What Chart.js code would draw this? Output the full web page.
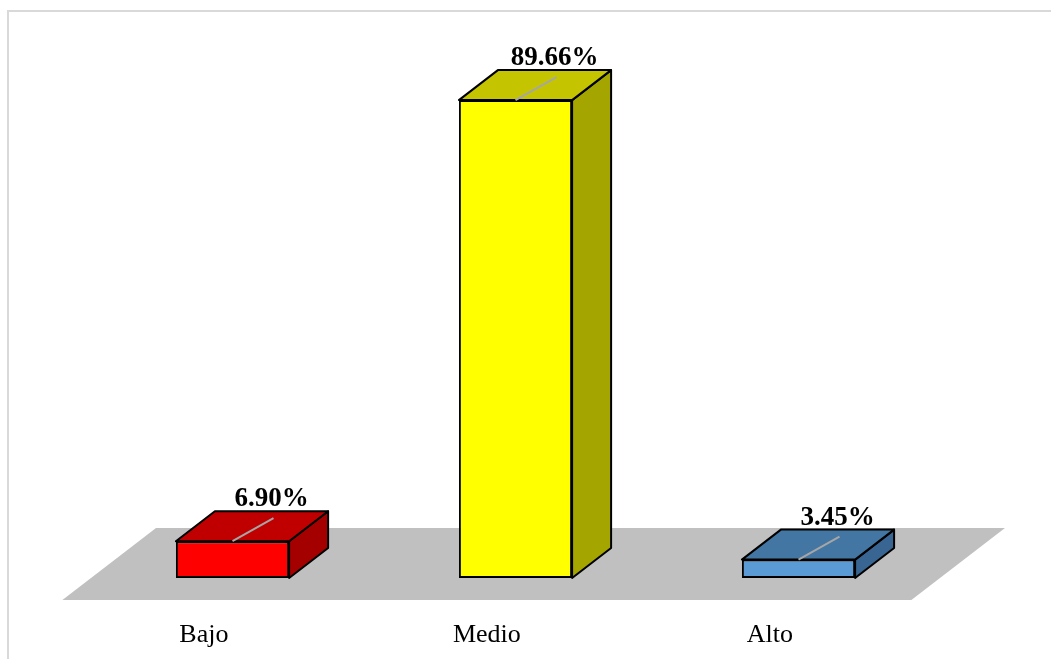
<!DOCTYPE html>
<html>
<head>
<meta charset="utf-8">
<script src="https://cdn.jsdelivr.net/npm/chart.js@4.4.1/dist/chart.umd.min.js"></script>
<style>
  html, body { margin: 0; padding: 0; background: #fff; }
  #wrap { width: 1051px; height: 659px; position: relative; }
</style>
</head>
<body>
<div id="wrap"><canvas id="chart"></canvas></div>
<script>
// -----------------------------
// Data
// -----------------------------
const categories = ['Bajo', 'Medio', 'Alto'];
const percentages = [6.90, 89.66, 3.45];

const frontColors = ['#ff0000', '#ffff00', '#5b9bd5'];
const topColors = ['#c00000', '#c4c400', '#4376a3'];
const sideColors = ['#a50000', '#a5a500', '#386591'];

// oblique depth of each bar (pixels)
const DEPTH_X = 39;
const DEPTH_Y = -30;
const SERIF = '"Liberation Serif", "Times New Roman", serif';

// -----------------------------
// 3D drawing plugin
// -----------------------------
const threeD = {
  id: 'threeD',
  beforeDraw(chart) {
    const c = chart.ctx;
    c.save();
    c.strokeStyle = '#d9d9d9';
    c.lineWidth = 2;
    c.beginPath();
    c.moveTo(8, chart.height);
    c.lineTo(8, 11);
    c.lineTo(chart.width, 11);
    c.stroke();
    c.restore();
  },
  beforeDatasetsDraw(chart) {
    const c = chart.ctx;
    const { left, right } = chart.chartArea;
    const base = chart.scales.y.getPixelForValue(0);
    const k = DEPTH_X / DEPTH_Y; // x shift per y shift
    const fy = base + 22, by = base - 50;
    c.save();
    c.fillStyle = '#c0c0c0';
    c.beginPath();
    c.moveTo(left + (fy - base) * k, fy);
    c.lineTo(right + (fy - base) * k, fy);
    c.lineTo(right + (by - base) * k, by);
    c.lineTo(left + (by - base) * k, by);
    c.closePath();
    c.fill();

    // category labels along the floor's front edge
    c.fillStyle = '#000';
    c.font = '26px ' + SERIF;
    c.textAlign = 'center';
    c.textBaseline = 'alphabetic';
    categories.forEach((cat, i) => {
      const x = chart.scales.x.getPixelForValue(i) + (fy - base) * k;
      c.fillText(cat, x, base + 64);
    });
    c.restore();
  },
  afterDatasetsDraw(chart) {
    const c = chart.ctx;
    const meta = chart.getDatasetMeta(0);
    c.save();
    c.lineJoin = 'round';
    meta.data.forEach((bar, i) => {
      const x1 = bar.x - bar.width / 2;
      const x2 = bar.x + bar.width / 2;
      const top = bar.y;
      const base = bar.base;

      c.strokeStyle = '#000';
      c.lineWidth = 2;

      // side face
      c.fillStyle = sideColors[i];
      c.beginPath();
      c.moveTo(x2, top);
      c.lineTo(x2 + DEPTH_X, top + DEPTH_Y);
      c.lineTo(x2 + DEPTH_X, base + DEPTH_Y);
      c.lineTo(x2, base);
      c.closePath();
      c.fill();
      c.stroke();

      // top face
      c.fillStyle = topColors[i];
      c.beginPath();
      c.moveTo(x1, top);
      c.lineTo(x1 + DEPTH_X, top + DEPTH_Y);
      c.lineTo(x2 + DEPTH_X, top + DEPTH_Y);
      c.lineTo(x2, top);
      c.closePath();
      c.fill();
      c.stroke();

      // leader line
      c.strokeStyle = '#a6a6a6';
      c.lineWidth = 2;
      c.beginPath();
      c.moveTo(bar.x, top);
      c.lineTo(bar.x + 41, top - 23);
      c.stroke();

      // value label
      c.fillStyle = '#000';
      c.font = 'bold 27px ' + SERIF;
      c.textAlign = 'center';
      c.textBaseline = 'alphabetic';
      c.fillText(percentages[i].toFixed(2) + '%', bar.x + DEPTH_X, top + DEPTH_Y - 5);
    });
    c.restore();
  }
};

// -----------------------------
// Chart
// -----------------------------
new Chart(document.getElementById('chart'), {
  type: 'bar',
  data: {
    labels: categories,
    datasets: [{
      data: percentages,
      backgroundColor: frontColors,
      borderColor: '#000',
      borderWidth: 2,
      borderSkipped: false,
      barPercentage: 0.4,
      categoryPercentage: 1.0
    }]
  },
  options: {
    responsive: true,
    maintainAspectRatio: false,
    animation: false,
    devicePixelRatio: 1,
    layout: { padding: { left: 91, right: 111, top: 45, bottom: 81 } },
    scales: {
      x: { display: false },
      y: { display: false, min: 0, max: 100 }
    },
    plugins: {
      legend: { display: false },
      tooltip: { enabled: false }
    }
  },
  plugins: [threeD]
});
</script>
</body>
</html>
